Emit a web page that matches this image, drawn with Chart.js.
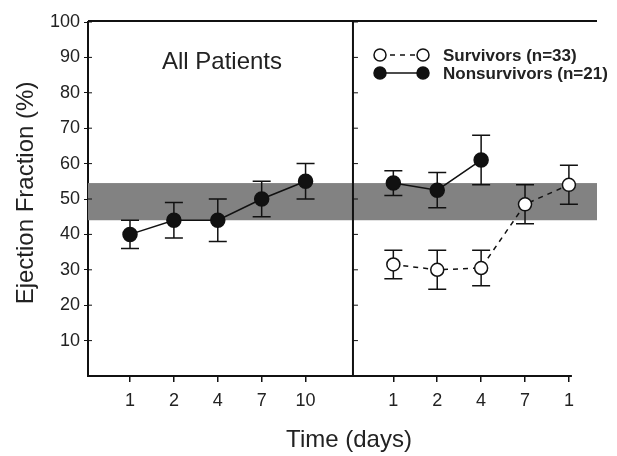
<!DOCTYPE html>
<html>
<head>
<meta charset="utf-8">
<script src="https://cdn.jsdelivr.net/npm/chart.js@4.4.1/dist/chart.umd.min.js"></script>
<style>
  html, body { margin: 0; padding: 0; background: #fff; }
  canvas { display: block; }
</style>
</head>
<body>
<canvas id="ef" width="617" height="456"></canvas>
<script>
// 数据
const dayLabels = ['1', '2', '4', '7', '10'];
const rightDayLabels = ['1', '2', '4', '7', '1'];   // last label is cut off in the scan
const allMean = [40, 44, 44, 50, 55];
const allErr = [4, 5, 6, 5, 5];
const nonMean = [54.5, 52.5, 61];
const nonErr = [3.5, 5, 7];
const survMean = [31.5, 30, 30.5, 48.5, 54];
const survErr = [4, 5.5, 5, 5.5, 5.5];
const yTicks = [10, 20, 30, 40, 50, 60, 70, 80, 90, 100];
const normalBand = [44, 54.5];

const RIGHT_OFFSET = 6;      // right panel categories start here on the x scale
const DIVIDER = 5.08;        // x value of the panel divider
const FONT = '"Liberation Sans", Arial, sans-serif';

const toPts = (vals, off) => vals.map((v, i) => ({ x: i + off, y: v }));

const allPts = toPts(allMean, 0);
const nonPts = toPts(nonMean, RIGHT_OFFSET);
const survPts = toPts(survMean, RIGHT_OFFSET);

const xTickVals = [];
const xTickText = {};
dayLabels.forEach((l, i) => { xTickVals.push(i); xTickText[i] = l; });
rightDayLabels.forEach((l, i) => { xTickVals.push(i + RIGHT_OFFSET); xTickText[i + RIGHT_OFFSET] = l; });

const decorPlugin = {
    id: 'decor',
    beforeDatasetsDraw(chart) {
        const { ctx, chartArea: ca, scales: { x, y } } = chart;
        ctx.save();
        // 正常范围灰带
        ctx.fillStyle = '#828282';
        const yt = y.getPixelForValue(normalBand[1]);
        const yb = y.getPixelForValue(normalBand[0]);
        ctx.fillRect(ca.left, yt, ca.right - ca.left, yb - yt);

        // 边框
        ctx.strokeStyle = '#111';
        ctx.lineWidth = 2;
        ctx.beginPath();
        ctx.moveTo(ca.left, ca.top - 1);
        ctx.lineTo(ca.right, ca.top - 1);
        const xd = x.getPixelForValue(DIVIDER);
        ctx.moveTo(xd, ca.top - 1);
        ctx.lineTo(xd, ca.bottom);
        ctx.moveTo(ca.left, ca.bottom);
        ctx.lineTo(x.getPixelForValue(10) + 3, ca.bottom);
        ctx.stroke();

        // divider inner ticks
        ctx.lineWidth = 1;
        yTicks.forEach(v => {
            const py = y.getPixelForValue(v);
            ctx.beginPath();
            ctx.moveTo(xd, py);
            ctx.lineTo(xd + 5, py);
            ctx.moveTo(ca.left, py);
            ctx.lineTo(ca.left + 4, py);
            ctx.stroke();
        });

        // 误差线
        ctx.lineWidth = 1.5;
        chart.data.datasets.forEach(ds => {
            ds.data.forEach((p, i) => {
                const e = ds.err[i];
                const px = x.getPixelForValue(p.x);
                const top = y.getPixelForValue(p.y + e);
                const bot = y.getPixelForValue(p.y - e);
                ctx.beginPath();
                ctx.moveTo(px, top);
                ctx.lineTo(px, bot);
                ctx.moveTo(px - 9, top);
                ctx.lineTo(px + 9, top);
                ctx.moveTo(px - 9, bot);
                ctx.lineTo(px + 9, bot);
                ctx.stroke();
            });
        });
        ctx.restore();
    },
    afterDraw(chart) {
        const { ctx } = chart;
        ctx.save();
        ctx.fillStyle = '#222';
        ctx.textAlign = 'center';
        ctx.textBaseline = 'middle';

        ctx.font = '24px ' + FONT;
        ctx.fillText('All Patients', 222, 62);
        ctx.fillText('Time (days)', 349, 440);

        ctx.save();
        ctx.translate(26, 193);
        ctx.rotate(-Math.PI / 2);
        ctx.fillText('Ejection Fraction (%)', 0, 0);
        ctx.restore();

        // 图例
        const items = [
            { label: 'Survivors (n=33)', y: 55, open: true },
            { label: 'Nonsurvivors (n=21)', y: 73, open: false }
        ];
        items.forEach(it => {
            ctx.strokeStyle = '#111';
            ctx.lineWidth = 1.5;
            ctx.setLineDash(it.open ? [5, 5] : []);
            ctx.beginPath();
            ctx.moveTo(380, it.y);
            ctx.lineTo(423, it.y);
            ctx.stroke();
            ctx.setLineDash([]);
            [380, 423].forEach(cx => {
                ctx.beginPath();
                ctx.arc(cx, it.y, 6, 0, Math.PI * 2);
                ctx.fillStyle = it.open ? '#fff' : '#111';
                ctx.fill();
                ctx.stroke();
            });
            ctx.fillStyle = '#222';
            ctx.textAlign = 'left';
            ctx.font = 'bold 17px ' + FONT;
            ctx.fillText(it.label, 443, it.y + 1);
        });
        ctx.restore();
    }
};

new Chart(document.getElementById('ef'), {
    type: 'line',
    data: {
        datasets: [
            {
                label: 'All Patients',
                data: allPts,
                err: allErr,
                borderColor: '#111',
                borderWidth: 1.5,
                pointRadius: 7,
                pointBackgroundColor: '#111',
                pointBorderColor: '#111',
                tension: 0
            },
            {
                label: 'Nonsurvivors (n=21)',
                data: nonPts,
                err: nonErr,
                borderColor: '#111',
                borderWidth: 1.5,
                pointRadius: 7,
                pointBackgroundColor: '#111',
                pointBorderColor: '#111',
                tension: 0
            },
            {
                label: 'Survivors (n=33)',
                data: survPts,
                err: survErr,
                borderColor: '#111',
                borderWidth: 1.5,
                borderDash: [5, 5],
                pointRadius: 6.5,
                pointBorderWidth: 1.5,
                pointBackgroundColor: '#fff',
                pointBorderColor: '#111',
                tension: 0
            }
        ]
    },
    options: {
        responsive: false,
        animation: false,
        layout: { padding: { left: 0, top: 22, right: 20, bottom: 0 } },
        plugins: {
            legend: { display: false },
            tooltip: { enabled: false }
        },
        scales: {
            x: {
                type: 'linear',
                min: -0.957,
                max: 10.64,
                afterFit(scale) { scale.height = 80; },
                afterBuildTicks(scale) { scale.ticks = xTickVals.map(v => ({ value: v })); },
                grid: { drawOnChartArea: false, drawTicks: true, tickLength: 6, color: '#111', lineWidth: 1.5 },
                border: { display: false },
                ticks: {
                    color: '#222',
                    padding: 8,
                    maxRotation: 0,
                    autoSkip: false,
                    font: { family: FONT, size: 18 },
                    callback: v => xTickText[v] ?? ''
                }
            },
            y: {
                min: 0,
                max: 100,
                afterFit(scale) { scale.width = 88; },
                afterBuildTicks(scale) { scale.ticks = yTicks.map(v => ({ value: v })); },
                grid: { drawOnChartArea: false, drawTicks: true, tickLength: 4, color: '#111', lineWidth: 1 },
                border: { display: true, color: '#111', width: 2 },
                ticks: {
                    color: '#222',
                    padding: 4,
                    font: { family: FONT, size: 18 }
                }
            }
        }
    },
    plugins: [decorPlugin]
});
</script>
</body>
</html>
